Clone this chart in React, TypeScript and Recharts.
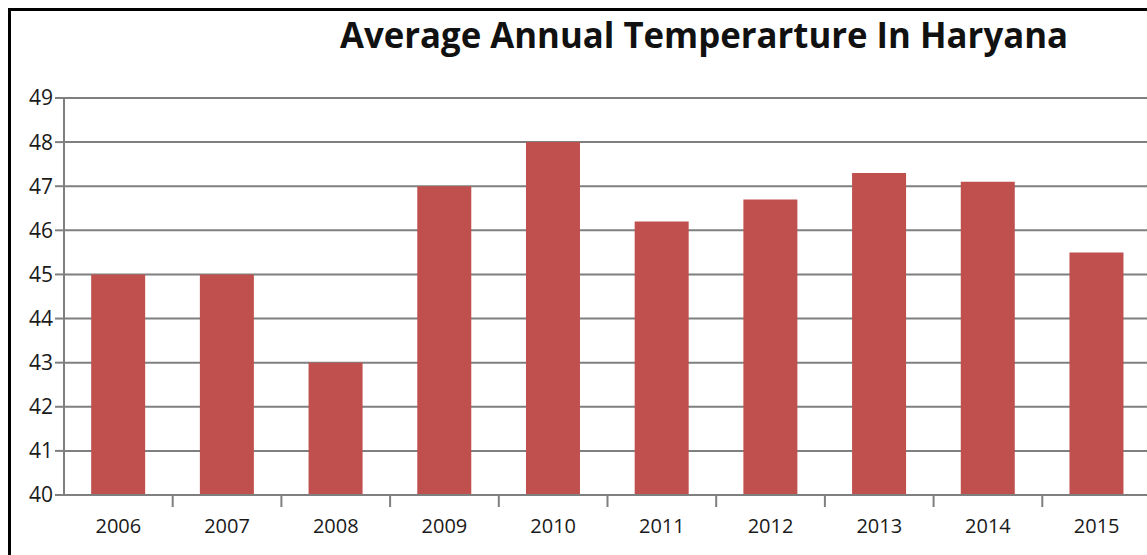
import React from 'react';
import { BarChart, Bar, XAxis, YAxis, CartesianGrid } from 'recharts';

const categories = ['2006', '2007', '2008', '2009', '2010', '2011', '2012', '2013', '2014', '2015'];
const temperatures = [45, 45, 43, 47, 48, 46.2, 46.7, 47.3, 47.1, 45.5];
const yTicks = [40, 41, 42, 43, 44, 45, 46, 47, 48, 49];
const title = 'Average Annual Temperarture In Haryana';

const data = categories.map((year, i) => ({ year, temp: temperatures[i] }));

const AXIS_COLOR = '#7f7f7f';
const TEXT_COLOR = '#1a1a1a';
const FONT = "'Open Sans', 'DejaVu Sans', sans-serif";

function XTick(props: any) {
  const { x, y, payload, width, visibleTicksCount } = props;
  const half =
    payload && typeof payload.offset === 'number' && payload.offset > 0
      ? payload.offset
      : width / (visibleTicksCount || 10) / 2;
  return (
    <g>
      <line x1={x + half} x2={x + half} y1={y - 12} y2={y} stroke={AXIS_COLOR} strokeWidth={2} />
      <text x={x} y={y + 26} textAnchor="middle" fill={TEXT_COLOR} fontSize={20} fontFamily={FONT}>
        {payload.value}
      </text>
    </g>
  );
}

export default function App() {
  return (
    <div
      style={{
        position: 'fixed',
        left: 8,
        top: 8,
        width: 1139,
        height: 547,
        overflow: 'hidden',
        borderTop: '3px solid #000',
        borderLeft: '3px solid #000',
        boxSizing: 'border-box',
        background: '#fff',
      }}
    >
      <svg width={1136} height={70} style={{ position: 'absolute', left: 0, top: 0 }}>
        <text
          x={329}
          y={37}
          fontSize={35}
          fontWeight="bold"
          fontFamily={FONT}
          fill="#111"
          textLength={728}
          lengthAdjust="spacingAndGlyphs"
        >
          {title}
        </text>
      </svg>
      <BarChart
        width={1160}
        height={544}
        data={data}
        margin={{ top: 87, right: 20, left: 0, bottom: 20 }}
        barCategoryGap="25%"
      >
        <CartesianGrid vertical={false} stroke={AXIS_COLOR} strokeWidth={2} />
        <XAxis
          dataKey="year"
          height={40}
          axisLine={{ stroke: AXIS_COLOR, strokeWidth: 2 }}
          tickLine={false}
          tickSize={12}
          tickMargin={0}
          interval={0}
          tick={<XTick />}
        />
        <YAxis
          width={53}
          domain={[40, 49]}
          ticks={yTicks}
          interval={0}
          allowDataOverflow
          axisLine={{ stroke: AXIS_COLOR, strokeWidth: 2 }}
          tickLine={{ stroke: AXIS_COLOR, strokeWidth: 2 }}
          tickSize={9}
          tickMargin={2}
          tick={{ fill: TEXT_COLOR, fontSize: 21, fontFamily: FONT }}
        />
        <Bar dataKey="temp" fill="#C0504D" isAnimationActive={false} />
      </BarChart>
    </div>
  );
}
